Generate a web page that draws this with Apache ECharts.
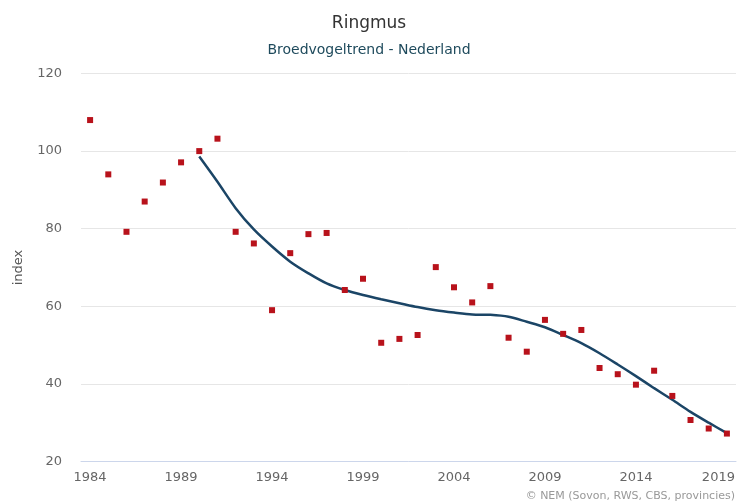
<!DOCTYPE html>
<html>
<head>
<meta charset="utf-8">
<script src="https://cdn.jsdelivr.net/npm/echarts@6/dist/echarts.min.js"></script>
<style>
  html, body { margin: 0; padding: 0; background: #fff; }
</style>
</head>
<body>
<div id="chart" style="width: 738px; height: 501px;"></div>
<script>
    // jaren 1984 - 2019
    const years = ['1984','1985','1986','1987','1988','1989','1990','1991','1992','1993',
        '1994','1995','1996','1997','1998','1999','2000','2001','2002','2003',
        '2004','2005','2006','2007','2008','2009','2010','2011','2012','2013',
        '2014','2015','2016','2017','2018','2019']

    // jaarlijkse index (punten)
    const indexValues = [108, 94, 79.2, 87, 91.9, 97.1, 100, 103.2, 79.2, 76.2,
        59, 73.7, 78.6, 78.9, 64.2, 67.1, 50.6, 51.6, 52.6, 70.1,
        64.9, 61, 65.2, 51.9, 48.3, 56.5, 52.9, 53.9, 44.1, 42.5,
        39.8, 43.4, 36.9, 30.7, 28.5, 27.2]

    // trendlijn, begint in 1990
    const trendValues = [null, null, null, null, null, null, 98.6, 92.1, 85.3, 79.8,
        75.4, 71.5, 68.5, 65.9, 64.2, 62.9, 61.8, 60.8, 59.8, 59.0,
        58.4, 57.9, 57.8, 57.3, 56.0, 54.6, 52.6, 50.5, 47.9, 45.0,
        42.0, 38.9, 35.9, 32.8, 30.0, 27.3]

    const yTicks = [20, 40, 60, 80, 100, 120]

    const font = 'DejaVu Sans'

    let myChart = echarts.init(document.getElementById('chart'))

    let option = {
        animation: false,
        textStyle: { fontFamily: font },
        title: [
            {
                text: 'Ringmus',
                left: 'center',
                top: 10,
                textStyle: { fontSize: 17, fontWeight: 'normal', color: '#333333', fontFamily: font }
            },
            {
                text: 'Broedvogeltrend - Nederland',
                left: 'center',
                top: 38,
                textStyle: { fontSize: 14, fontWeight: 'normal', color: '#1e4a5c', fontFamily: font }
            },
            {
                text: '© NEM (Sovon, RWS, CBS, provincies)',
                right: -2,
                top: 486,
                textStyle: { fontSize: 11, fontWeight: 'normal', color: '#999999', fontFamily: font }
            }
        ],
        grid: {
            left: 81,
            right: 2,
            top: 73.5,
            bottom: 39.5,
            outerBoundsMode: 'none',
            containLabel: false
        },
        xAxis: {
            type: 'category',
            data: years,
            boundaryGap: true,
            axisLine: { lineStyle: { color: '#ccd6eb' } },
            axisTick: {
                alignWithLabel: true,
                interval: 4,
                length: 8,
                lineStyle: { color: '#ccd6eb' }
            },
            axisLabel: {
                interval: 4,
                color: '#666666',
                fontSize: 13,
                margin: 10,
                fontFamily: font,
                // laatste label iets naar binnen, zoals in het origineel
                formatter: function (value) {
                    return value === years[years.length - 1] ? '{last|' + value + '}' : value
                },
                rich: {
                    last: { padding: [0, 17, 0, 0], color: '#666666', fontSize: 13, fontFamily: font }
                }
            }
        },
        yAxis: {
            type: 'value',
            min: yTicks[0],
            max: yTicks[yTicks.length - 1],
            interval: 20,
            name: 'index',
            nameLocation: 'middle',
            nameGap: 56,
            nameTextStyle: { color: '#555555', fontSize: 13, fontFamily: font },
            axisLine: { show: false },
            axisTick: { show: false },
            axisLabel: { color: '#666666', fontSize: 13, margin: 19, fontFamily: font },
            splitLine: { lineStyle: { color: '#e6e6e6' } }
        },
        series: [
            {
                name: 'trend',
                type: 'line',
                data: trendValues,
                smooth: 0.3,
                showSymbol: false,
                connectNulls: false,
                lineStyle: { color: '#1b4566', width: 2.5 },
                z: 2
            },
            {
                name: 'index',
                type: 'scatter',
                data: indexValues,
                symbol: 'rect',
                symbolSize: 6,
                itemStyle: { color: '#b8121b', opacity: 1 },
                z: 3
            }
        ]
    }
    myChart.setOption(option)
</script>
</body>
</html>
